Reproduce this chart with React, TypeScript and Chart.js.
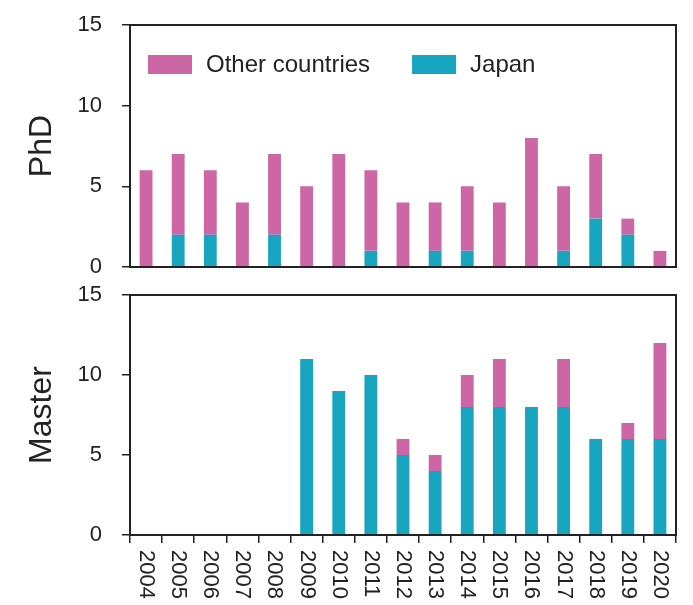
import React, { useEffect, useRef } from "react";
import { Chart, registerables } from "chart.js";

Chart.register(...registerables);

// ---- data ----
const years = ["2004", "2005", "2006", "2007", "2008", "2009", "2010", "2011", "2012", "2013", "2014", "2015", "2016", "2017", "2018", "2019", "2020"];
const phdJapan = [0, 2, 2, 0, 2, 0, 0, 1, 0, 1, 1, 0, 0, 1, 3, 2, 0];
const phdOther = [6, 5, 4, 4, 5, 5, 7, 5, 4, 3, 4, 4, 8, 4, 4, 1, 1];
const masterJapan = [0, 0, 0, 0, 0, 11, 9, 10, 5, 4, 8, 8, 8, 8, 6, 6, 6];
const masterOther = [0, 0, 0, 0, 0, 0, 0, 0, 1, 1, 2, 3, 0, 3, 0, 1, 6];
const yMin = 0;
const yMax = 15;
const yStep = 5;
const seriesLabels = ["Japan", "Other countries"];

const PINK = "#cc66a5";
const TEAL = "#17a5bf";
const INK = "#222222";
const FONT = '"Liberation Sans", Arial, sans-serif';

const framePlugin = {
  id: "frame",
  afterDatasetsDraw(chart: any) {
    const { ctx, chartArea } = chart;
    ctx.save();
    ctx.strokeStyle = INK;
    ctx.lineWidth = 2;
    ctx.strokeRect(chartArea.left, chartArea.top, chartArea.right - chartArea.left, chartArea.bottom - chartArea.top);
    ctx.restore();
  },
};

const legendPlugin = {
  id: "insideLegend",
  afterDraw(chart: any) {
    const { ctx, chartArea } = chart;
    ctx.save();
    ctx.font = `24px ${FONT}`;
    ctx.textBaseline = "middle";
    ctx.textAlign = "left";
    let x = chartArea.left + 18;
    const y = chartArea.top + 30;
    const items = [...chart.data.datasets].reverse();
    items.forEach((ds: any) => {
      ctx.fillStyle = ds.backgroundColor;
      ctx.fillRect(x, y, 44, 19);
      ctx.fillStyle = INK;
      ctx.fillText(ds.label, x + 58, y + 10);
      x += 58 + ctx.measureText(ds.label).width + 42;
    });
    ctx.restore();
  },
};

const xLabelPlugin = {
  id: "xLabels",
  afterDraw(chart: any) {
    const { ctx, chartArea } = chart;
    const xs = chart.scales.x;
    ctx.save();
    ctx.font = `22px ${FONT}`;
    ctx.fillStyle = INK;
    ctx.textAlign = "left";
    ctx.textBaseline = "middle";
    chart.data.labels.forEach((lab: string, i: number) => {
      const px = xs.getPixelForTick(i);
      ctx.save();
      ctx.translate(px, chartArea.bottom + 15);
      ctx.rotate(Math.PI / 2);
      ctx.fillText(lab, 0, 0);
      ctx.restore();
    });
    ctx.restore();
  },
};

function makeConfig(title: string, japan: number[], other: number[], bottom: boolean, padTop: number, padBottom: number): any {
  return {
    type: "bar",
    data: {
      labels: years,
      datasets: [
        { label: seriesLabels[0], data: japan, backgroundColor: TEAL, borderWidth: 0, barPercentage: 0.4, categoryPercentage: 1, stack: "s" },
        { label: seriesLabels[1], data: other, backgroundColor: PINK, borderWidth: 0, barPercentage: 0.4, categoryPercentage: 1, stack: "s" },
      ],
    },
    options: {
      animation: false,
      responsive: true,
      maintainAspectRatio: false,
      layout: { padding: { top: padTop, bottom: padBottom, left: 0, right: 17 } },
      plugins: { legend: { display: false }, tooltip: { enabled: false } },
      scales: {
        x: {
          stacked: true,
          display: bottom,
          border: { display: false },
          grid: { display: true, drawOnChartArea: false, drawTicks: true, tickLength: 8, color: INK, lineWidth: 1.5, offset: true },
          ticks: { display: false },
          afterFit(scale: any) {
            scale.height = bottom ? 70 : 0;
            scale.paddingLeft = 0;
            scale.paddingRight = 0;
          },
        },
        y: {
          stacked: true,
          min: yMin,
          max: yMax,
          border: { display: false },
          grid: { display: true, drawOnChartArea: false, drawTicks: true, tickLength: 8, color: INK, lineWidth: 1.5 },
          ticks: { stepSize: yStep, padding: 20, color: INK, font: { family: FONT, size: 22 } },
          title: { display: true, text: title, color: INK, font: { family: FONT, size: 32 }, padding: { top: 23, bottom: 0 } },
          afterFit(scale: any) {
            scale.width = 130;
            scale.paddingTop = 0;
            scale.paddingBottom = 0;
          },
        },
      },
    },
    plugins: bottom ? [framePlugin, xLabelPlugin] : [framePlugin, legendPlugin],
  };
}

export default function App() {
  const topRef = useRef<HTMLCanvasElement | null>(null);
  const botRef = useRef<HTMLCanvasElement | null>(null);

  useEffect(() => {
    const c1 = new Chart(topRef.current as HTMLCanvasElement, makeConfig("PhD", phdJapan, phdOther, false, 25, 13));
    const c2 = new Chart(botRef.current as HTMLCanvasElement, makeConfig("Master", masterJapan, masterOther, true, 15, 0));
    return () => {
      c1.destroy();
      c2.destroy();
    };
  }, []);

  return (
    <div style={{ position: "fixed", left: 0, top: 0, width: 693, height: 605, background: "#fff" }}>
      <div style={{ position: "absolute", left: 0, top: 0, width: 693, height: 280 }}>
        <canvas ref={topRef} />
      </div>
      <div style={{ position: "absolute", left: 0, top: 280, width: 693, height: 325 }}>
        <canvas ref={botRef} />
      </div>
    </div>
  );
}
